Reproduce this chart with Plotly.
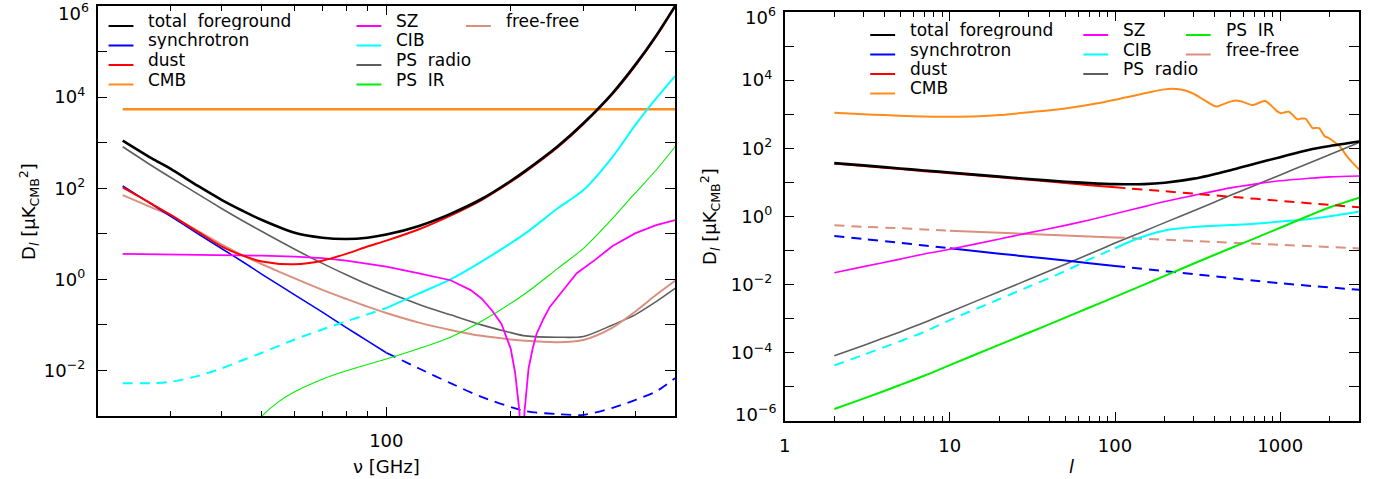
import plotly.graph_objects as go

W, H = 1378, 479
FONT = "DejaVu Sans"

# ---------------- left panel: D_l versus frequency (GHz) ----------------
nu = [23, 27, 30, 35, 40, 45, 50, 60, 70, 80, 90, 100, 120, 143, 170, 200, 217, 260, 300, 353, 400, 450, 500]
total_nu = [1110, 457, 269, 112, 55.0, 31.6, 20.0, 10.5, 8.2, 7.7, 8.2, 9.6, 14.9, 27.4, 58.0, 144,
            240, 832, 2670, 1.23e4, 5.03e4, 2.23e5, 9.96e5]
dust_nu = [105, 45.7, 26.3, 11.0, 5.25, 3.31, 2.45, 2.14, 2.57, 3.63, 5.25, 7.08, 12.6, 25.1, 55.0, 138,
           229, 794, 2570, 1.175e4, 4.79e4, 2.14e5, 9.66e5]
psradio_nu = [813, 316, 174, 74.1, 35.5, 19.1, 11.2, 4.57, 2.24, 1.26, 0.776, 0.525, 0.282, 0.166, 0.100,
              0.0676, 0.0575, 0.0537, 0.0556, 0.100, 0.166, 0.324, 0.631]
freefree_nu = [70.8, 38.0, 25.1, 11.5, 5.75, 3.31, 2.14, 1.05, 0.589, 0.372, 0.251, 0.182, 0.112, 0.0776,
               0.0575, 0.0479, 0.0447, 0.0417, 0.0468, 0.0871, 0.195, 0.457, 0.933]

nu_sync_solid = [23, 27, 30, 35, 40, 45, 50, 60, 70, 80, 90, 100]
sync_nu_solid = [112, 44.7, 24.5, 10.0, 4.68, 2.40, 1.29, 0.457, 0.191, 0.0871, 0.0447, 0.0245]
nu_sync_dash = [100, 120, 143, 170, 217, 260, 300, 353, 400, 450, 500]
sync_nu_dash = [0.0245, 0.011, 0.00525, 0.00263, 0.00129, 0.0011, 0.00106, 0.00151, 0.00224, 0.00347, 0.00676]

nu_cib_dash = [23, 27, 30, 35, 40, 45, 50, 60, 70, 80, 90, 100]
cib_nu_dash = [0.00525, 0.00525, 0.00562, 0.00759, 0.0112, 0.017, 0.0245, 0.0479, 0.0794, 0.120, 0.170, 0.234]
nu_cib_solid = [100, 120, 143, 170, 217, 260, 300, 353, 400, 450, 500]
cib_nu_solid = [0.234, 0.490, 1.0, 2.45, 10.2, 36.3, 91.2, 490, 2400, 9330, 28800]

nu_sz = [23, 30, 40, 50, 60, 70, 80, 90, 100, 120, 143, 160, 170, 180, 190, 200, 205, 210, 213, 216,
         221, 226, 231, 240, 249, 270, 289, 320, 353, 400, 450, 500]
sz_nu = [3.61, 3.55, 3.43, 3.31, 3.16, 2.92, 2.57, 2.24, 1.91, 1.35, 0.955, 0.58, 0.380, 0.21, 0.105,
         0.0302, 0.00891, 0.00126, 1e-5, 0.00126, 0.0112, 0.030, 0.0631, 0.135, 0.251, 0.631, 1.36,
         2.67, 5.41, 10.2, 15.5, 20.0]

nu_psir = [45, 50, 55, 60, 70, 80, 90, 100, 120, 143, 170, 217, 260, 300, 353, 400, 450, 500]
psir_nu = [3.16e-4, 1.0e-3, 2.1e-3, 3.4e-3, 6.4e-3, 0.0098, 0.0135, 0.0178, 0.0302, 0.0537, 0.120, 0.490,
           1.74, 4.79, 21.9, 77.6, 251, 813]

nu_cmb = [23, 50, 100, 200, 500]
cmb_nu = [5400, 5400, 5400, 5400, 5400]

# ---------------- right panel: D_l versus multipole ----------------
ell = [2, 3, 5, 7, 10, 20, 30, 50, 70, 100, 150, 200, 300, 500, 700, 1000, 1500, 2000, 3000]
total_ell = [36.7, 31.6, 25.7, 22.4, 19.5, 14.8, 12.6, 10.5, 9.55, 8.91, 8.91, 9.77, 12.9, 22.9, 35.5,
             55.0, 91.2, 117, 158]
sz_ell = [0.0224, 0.0339, 0.0562, 0.0794, 0.109, 0.219, 0.331, 0.550, 0.794, 1.20, 1.95, 2.75, 4.17,
          6.92, 8.91, 11.2, 13.2, 14.5, 15.5]
psradio_ell = [8.24e-5, 1.64e-4, 4.12e-4, 7.71e-4, 1.58e-3, 6.31e-3, 0.0141, 0.0398, 0.0794, 0.166,
               0.372, 0.661, 1.48, 4.17, 8.13, 16.6, 37.2, 66.1, 148]
psir_ell = [2.24e-6, 4.52e-6, 1.14e-5, 2.13e-5, 4.37e-5, 1.74e-4, 3.89e-4, 1.08e-3, 2.14e-3, 4.37e-3,
            0.0100, 0.0182, 0.0417, 0.117, 0.229, 0.468, 1.07, 1.86, 3.55]

ell_dust_solid = [2, 3, 5, 7, 10, 20, 30, 50, 70, 100]
dust_ell_solid = [36.0, 30.5, 24.7, 21.4, 18.6, 14.1, 11.9, 9.66, 8.32, 7.19]
ell_dust_dash = [100, 200, 300, 500, 1000, 2000, 3000]
dust_ell_dash = [7.19, 5.50, 4.68, 3.80, 2.88, 2.19, 1.86]

ell_low = [2, 3, 5, 7, 10]
ell_mid = [10, 20, 30, 50, 70, 100]
ell_high = [100, 300, 1000, 3000]
sync_ell_low = [0.267, 0.219, 0.168, 0.141, 0.117]
sync_ell_mid = [0.117, 0.0813, 0.0661, 0.0513, 0.0427, 0.0355]
sync_ell_high = [0.0355, 0.0204, 0.011, 0.00708]
ff_ell_low = [0.550, 0.501, 0.452, 0.417, 0.383]
ff_ell_mid = [0.383, 0.331, 0.309, 0.275, 0.260, 0.244]
ff_ell_high = [0.244, 0.191, 0.148, 0.116]

ell_cib_dash = [2, 3, 5, 7, 10, 20, 30, 50, 70, 100]
cib_ell_dash = [4.29e-5, 8.71e-5, 2.19e-4, 4.12e-4, 9.12e-4, 3.80e-3, 8.71e-3, 0.0251, 0.055, 0.117]
ell_cib_solid = [100, 130, 160, 200, 300, 500, 700, 1000, 1500, 2000, 3000]
cib_ell_solid = [0.117, 0.204, 0.29, 0.39, 0.49, 0.562, 0.617, 0.708, 0.851, 1.02, 1.41]

ell_cmb = [2, 3, 4, 6, 10, 15, 20, 32, 50, 80, 130, 165, 200, 220, 250, 290, 330, 370, 410, 450, 500,
           540, 600, 680, 740, 810, 880, 950, 1010, 1070, 1130, 1200, 1270, 1340, 1420, 1500, 1570,
           1640, 1720, 1800, 1860, 1950, 2030, 2150, 2300, 2500, 2700, 3000]
cmb_ell = [1112, 1000, 944, 881, 847, 871, 944, 1175, 1479, 2138, 3508, 4519, 5370, 5559, 5309, 4266,
           3020, 2138, 1679, 1950, 2344, 2512, 2265, 1862, 2138, 2455, 1820, 1259, 1072, 1148, 1189,
           912, 708, 750, 741, 525, 389, 398, 389, 282, 224, 204, 182, 145, 112, 63.1, 40.7, 24.0]

# tick labels
left_x_ticks = [100]
right_x_ticks = [1, 10, 100, 1000]
left_y_labels = [-2, 0, 2, 4]
right_y_labels = [-4, -2, 0, 2, 4]

# ---------------- colours / legend ----------------
COL = {
    "total foreground": "#000000",
    "synchrotron": "#0000FF",
    "dust": "#FF0000",
    "CMB": "#FF8C1A",
    "SZ": "#FF00FF",
    "CIB": "#00FFFF",
    "PS radio": "#5E5E5E",
    "PS IR": "#00EE00",
    "free-free": "#D9907F",
}
legend_left = [["total foreground", "synchrotron", "dust", "CMB"],
               ["SZ", "CIB", "PS radio", "PS IR"],
               ["free-free"]]
legend_right = [["total foreground", "synchrotron", "dust", "CMB"],
                ["SZ", "CIB", "PS radio"],
                ["PS IR", "free-free"]]

DASH = "10px,7px"
fig = go.Figure()


def line(x, y, name, width, dash="solid", ax="x", ay="y", shape="spline"):
    fig.add_trace(go.Scatter(x=x, y=y, mode="lines", name=name, showlegend=False,
                             line=dict(color=COL[name], width=width, dash=dash, shape=shape,
                                       smoothing=0.8 if shape == "spline" else None),
                             xaxis=ax, yaxis=ay, hoverinfo="skip"))


# left panel traces
line(nu_cmb, cmb_nu, "CMB", 2.5, shape="linear")
line(nu, psradio_nu, "PS radio", 1.6)
line(nu, freefree_nu, "free-free", 2)
line(nu_sync_solid, sync_nu_solid, "synchrotron", 1.6)
line(nu_sync_dash, sync_nu_dash, "synchrotron", 1.8, DASH)
line(nu_cib_dash, cib_nu_dash, "CIB", 2, DASH)
line(nu_cib_solid, cib_nu_solid, "CIB", 2)
line(nu_psir, psir_nu, "PS IR", 1.1)
line(nu_sz, sz_nu, "SZ", 1.8, shape="linear")
line(nu, dust_nu, "dust", 2)
line(nu, total_nu, "total foreground", 2.6)

# right panel traces
X2, Y2 = "x2", "y2"
line(ell_cmb, cmb_ell, "CMB", 2, ax=X2, ay=Y2)
line(ell, psradio_ell, "PS radio", 1.6, ax=X2, ay=Y2)
line(ell_low, ff_ell_low, "free-free", 2, DASH, X2, Y2)
line(ell_mid, ff_ell_mid, "free-free", 2, ax=X2, ay=Y2)
line(ell_high, ff_ell_high, "free-free", 2, DASH, X2, Y2)
line(ell_low, sync_ell_low, "synchrotron", 2, DASH, X2, Y2)
line(ell_mid, sync_ell_mid, "synchrotron", 2, ax=X2, ay=Y2)
line(ell_high, sync_ell_high, "synchrotron", 2, DASH, X2, Y2)
line(ell_cib_dash, cib_ell_dash, "CIB", 2, DASH, X2, Y2)
line(ell_cib_solid, cib_ell_solid, "CIB", 2, ax=X2, ay=Y2)
line(ell, psir_ell, "PS IR", 2, ax=X2, ay=Y2)
line(ell, sz_ell, "SZ", 1.6, ax=X2, ay=Y2)
line(ell_dust_solid, dust_ell_solid, "dust", 2, ax=X2, ay=Y2)
line(ell_dust_dash, dust_ell_dash, "dust", 2, DASH, X2, Y2)
line(ell, total_ell, "total foreground", 2.6, ax=X2, ay=Y2)


def px(x):
    return x / W


def py(y):
    return 1 - y / H


def sup(e):
    return "10<sup>%s</sup>" % (str(e).replace("-", "\u2212"))


TICKFONT = dict(family=FONT, size=18, color="black")
base_axis = dict(type="log", showline=True, linecolor="black", linewidth=1.5, mirror="ticks",
                 ticks="inside", tickcolor="black", tickwidth=1.2, showgrid=False, zeroline=False,
                 tickfont=TICKFONT)


def minor(vals, length):
    return dict(ticks="inside", ticklen=length, tickwidth=1.2, tickcolor="black",
                tickvals=vals, showgrid=False)


fig.update_layout(
    width=W, height=H,
    margin=dict(l=0, r=0, t=0, b=0),
    paper_bgcolor="white", plot_bgcolor="white",
    showlegend=False,
    xaxis=dict(base_axis, domain=[px(92), px(672)], range=[1.30103, 2.69897], anchor="y",
               tickvals=left_x_ticks, ticktext=[str(v) for v in left_x_ticks], ticklen=9,
               ticklabelstandoff=8,
               minor=minor([30, 40, 50, 60, 70, 80, 90, 200, 300, 400], 5)),
    yaxis=dict(base_axis, domain=[py(416), py(6)], range=[-3, 6], anchor="x",
               tickvals=[10.0 ** e for e in left_y_labels],
               ticktext=[sup(e) for e in left_y_labels],
               ticklen=10, ticklabelstandoff=7,
               minor=minor([10.0 ** e for e in (-1, 1, 3, 5)], 10)),
    xaxis2=dict(base_axis, domain=[px(782), px(1359)], range=[0, 3.4771], anchor="y2",
                tickvals=right_x_ticks, ticktext=[str(v) for v in right_x_ticks], ticklen=9,
                ticklabelstandoff=8,
                minor=minor([2, 3, 4, 5, 6, 7, 8, 9, 20, 30, 40, 50, 60, 70, 80, 90,
                             200, 300, 400, 500, 600, 700, 800, 900, 2000], 5)),
    yaxis2=dict(base_axis, domain=[py(421), py(12)], range=[-6, 6], anchor="x2",
                tickvals=[10.0 ** e for e in right_y_labels],
                ticktext=[sup(e) for e in right_y_labels],
                ticklen=10, ticklabelstandoff=7,
                minor=minor([10.0 ** e for e in (-5, -3, -1, 1, 3, 5)], 10)),
)

annotations = []
shapes = []
LEGFONT = dict(family=FONT, size=17, color="black")


def add_legend(columns, text_x, row_y, sym_len=25, gap=13):
    for col, tx in zip(columns, text_x):
        for name, y in zip(col, row_y):
            shapes.append(dict(type="line", xref="paper", yref="paper",
                               x0=px(tx - gap - sym_len), x1=px(tx - gap), y0=py(y + 5), y1=py(y + 5),
                               line=dict(color=COL[name], width=2)))
            annotations.append(dict(text=name.replace(" ", "\u00a0\u00a0"), xref="paper", yref="paper",
                                    x=px(tx), y=py(y), xanchor="left", yanchor="middle",
                                    showarrow=False, height=18, font=LEGFONT))


add_legend(legend_left, [141, 390, 500], [21, 40.5, 60, 79.5])
add_legend(legend_right, [906, 1120, 1223], [30, 49.5, 69, 88.5])

# end-of-axis tick labels (drawn inside the frame height like the reference)
for txt, x, y in [(sup(6), 85, 12), (sup(6), 775, 16), (sup(-6), 775, 413)]:
    annotations.append(dict(text=txt, xref="paper", yref="paper", x=px(x), y=py(y), xanchor="right",
                            yanchor="middle", showarrow=False, font=TICKFONT))

title_font = dict(family=FONT, size=18, color="black")
annotations += [
    dict(text="\u03bd [GHz]", xref="paper", yref="paper", x=px(382), y=py(466), xanchor="center",
         yanchor="middle", showarrow=False, font=title_font),
    dict(text="<i>l</i>", xref="paper", yref="paper", x=px(1070), y=py(466), xanchor="center",
         yanchor="middle", showarrow=False, font=title_font),
    dict(text="D<sub><i>l</i></sub> [\u03bcK<sub>CMB</sub><sup>2</sup>]", xref="paper", yref="paper",
         x=px(23), y=py(211), xanchor="center", yanchor="middle", textangle=-90, showarrow=False,
         font=title_font),
    dict(text="D<sub><i>l</i></sub> [\u03bcK<sub>CMB</sub><sup>2</sup>]", xref="paper", yref="paper",
         x=px(707), y=py(216), xanchor="center", yanchor="middle", textangle=-90, showarrow=False,
         font=title_font),
]
fig.update_layout(annotations=annotations, shapes=shapes)

fig.write_html("out.html", config={"displayModeBar": False},
               post_script="document.body.style.margin='0';document.body.style.overflow='hidden';")
